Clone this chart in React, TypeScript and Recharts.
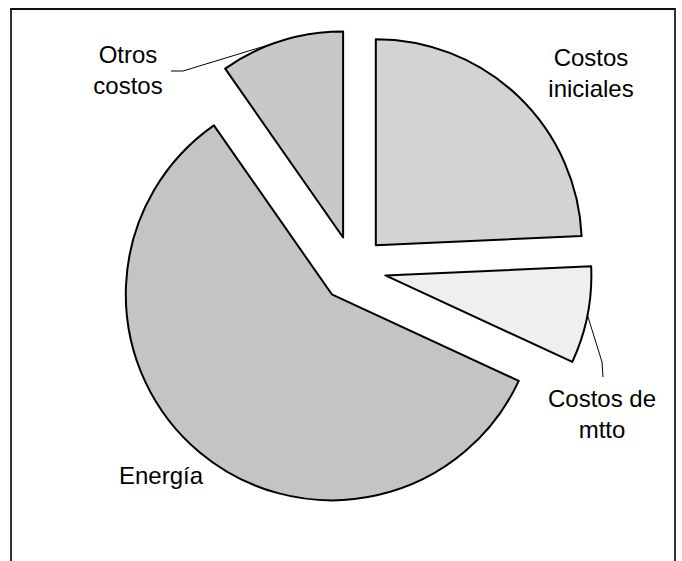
import { PieChart, Pie, Cell, Sector } from 'recharts';

// slices go clockwise from 12 o'clock
const categories = ['Costos iniciales', 'Costos de mtto', 'Energía', 'Otros costos'];
const shares = [24.3, 7.6, 58.4, 9.7];
const labelLines = [['Costos', 'iniciales'], ['Costos de', 'mtto'], ['Energía'], ['Otros', 'costos']];

const data = categories.map((name, i) => ({ name, value: shares[i] }));

const FILLS = ['#d3d3d3', '#efefef', '#c4c4c4', '#c8c8c8'];
const EXPLODE = 33;
const RADIAN = Math.PI / 180;
const FONT = '"Liberation Sans", Arial, sans-serif';

// text anchor (centre x, first baseline) relative to pie centre
const LABEL_POS = [
  { dx: 238, dy: -203 },
  { dx: 249, dy: 138 },
  { dx: -192, dy: 215 },
  { dx: -225, dy: -206 },
];
// leader elbows, relative to pie centre
const LEADERS: Record<number, { dx: number; dy: number }[]> = {
  1: [{ dx: 249, dy: 93 }, { dx: 250, dy: 108 }],
  3: [{ dx: -170, dy: -198 }, { dx: -182, dy: -198 }],
};

const explodedSector = (props: any) => {
  const { cx, cy, midAngle } = props;
  const ox = cx + EXPLODE * Math.cos(-midAngle * RADIAN);
  const oy = cy + EXPLODE * Math.sin(-midAngle * RADIAN);
  return (
    <Sector
      cx={ox}
      cy={oy}
      innerRadius={0}
      outerRadius={props.outerRadius}
      startAngle={props.startAngle}
      endAngle={props.endAngle}
      fill={props.fill}
      stroke="#000"
      strokeWidth={2}
      strokeLinejoin="round"
    />
  );
};

const renderLabel = (props: any) => {
  const { cx, cy, midAngle, outerRadius, index } = props;
  const pos = LABEL_POS[index];
  const lines = labelLines[index];
  const leader = LEADERS[index];
  let path = null;
  if (leader) {
    const r = outerRadius + EXPLODE;
    const ax = cx + r * Math.cos(-midAngle * RADIAN);
    const ay = cy + r * Math.sin(-midAngle * RADIAN);
    const pts = [`${ax},${ay}`, ...leader.map((p) => `${cx + p.dx},${cy + p.dy}`)];
    path = <polyline points={pts.join(' ')} fill="none" stroke="#000" strokeWidth={1} />;
  }
  return (
    <g key={`lbl-${index}`}>
      {path}
      <text
        x={cx + pos.dx}
        y={cy + pos.dy}
        textAnchor="middle"
        fontFamily={FONT}
        fontSize={24}
        fill="#000"
      >
        {lines.map((l, i) => (
          <tspan key={i} x={cx + pos.dx} dy={i === 0 ? 0 : 31}>
            {l}
          </tspan>
        ))}
      </text>
    </g>
  );
};

export default function App() {
  return (
    <div style={{ position: 'absolute', left: 0, top: 0, width: 682, height: 561, background: '#fff' }}>
      <div
        style={{
          position: 'absolute',
          left: 10,
          top: 8,
          width: 666,
          height: 553,
          boxSizing: 'border-box',
          borderTop: '2px solid #111',
          borderLeft: '2px solid #333',
          borderRight: '2px solid #333',
        }}
      />
      <div style={{ position: 'absolute', left: 0, top: 0 }}>
        <PieChart width={682} height={561} margin={{ top: 0, right: 0, bottom: 0, left: 0 }}>
          <Pie
            data={data}
            dataKey="value"
            nameKey="name"
            cx={353}
            cy={269}
            outerRadius={206}
            startAngle={90}
            endAngle={-270}
            stroke="#000"
            strokeWidth={2}
            shape={explodedSector}
            activeShape={explodedSector}
            inactiveShape={explodedSector}
            label={renderLabel}
            labelLine={false}
            isAnimationActive={false}
          >
            {data.map((_, i) => (
              <Cell key={i} fill={FILLS[i]} />
            ))}
          </Pie>
        </PieChart>
      </div>
    </div>
  );
}
